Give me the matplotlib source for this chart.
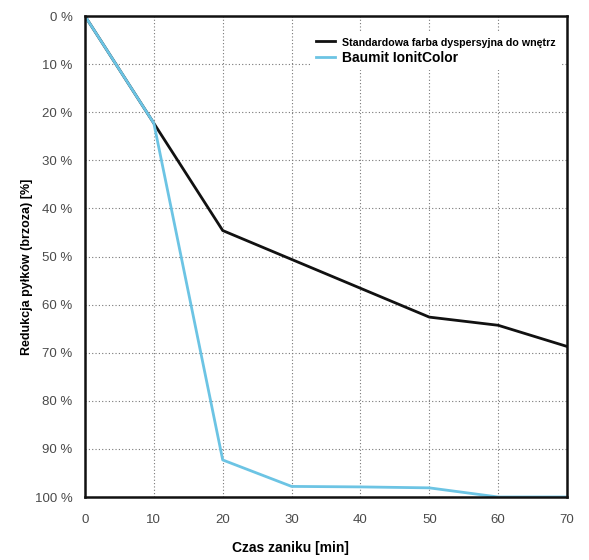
import matplotlib.pyplot as plt

plt.rcParams['font.family'] = ['Liberation Sans', 'DejaVu Sans']

time_min = [0, 10, 20, 30, 40, 50, 60, 70]
standard = [0, 22.3, 44.6, 50.6, 56.6, 62.6, 64.3, 68.7]
ionit = [0, 22.3, 92.3, 97.8, 97.9, 98.1, 100, 100]
x_ticks = [0, 10, 20, 30, 40, 50, 60, 70]
y_ticks = [0, 10, 20, 30, 40, 50, 60, 70, 80, 90, 100]

fig = plt.figure(figsize=(5.89, 5.6), dpi=100)
ax = fig.add_axes([0.1443, 0.1125, 0.8184, 0.8589])

ax.plot(time_min, standard, color='#111111', linewidth=2, label='Standardowa farba dyspersyjna do wnętrz')
ax.plot(time_min, ionit, color='#6cc4e4', linewidth=2, label='Baumit IonitColor')

ax.set_xlim(0, 70)
ax.set_ylim(100, 0)
ax.set_xticks(x_ticks)
ax.set_yticks(y_ticks)
ax.set_yticklabels(['%d %%' % v for v in y_ticks])
ax.tick_params(length=0, labelsize=9.5, labelcolor='#4a4a4a')
ax.tick_params(axis='x', pad=12)
ax.tick_params(axis='y', pad=9)
ax.grid(True, linestyle=(0, (1, 2)), color='#777777', linewidth=0.8)

for s in ax.spines.values():
    s.set_linewidth(1.8)
    s.set_color('#111111')

ax.set_xlabel('Czas zaniku [min]', fontsize=10, fontweight='bold')
ax.xaxis.set_label_coords(0.427, -0.092)
ax.set_ylabel('Redukcja pyłków (brzoza) [%]', fontsize=9, fontweight='bold')
ax.yaxis.set_label_coords(-0.108, 0.478)

leg = ax.legend(loc='upper right', bbox_to_anchor=(0.994, 0.975), frameon=True, facecolor='white',
                edgecolor='none', framealpha=1, fancybox=False, handlelength=1.4,
                handletextpad=0.5, borderaxespad=0.2, labelspacing=0.2)
texts = leg.get_texts()
texts[0].set_fontsize(7.7)
texts[0].set_fontweight('bold')
texts[1].set_fontsize(10)
texts[1].set_fontweight('bold')

fig.savefig('out.png', dpi=100)
